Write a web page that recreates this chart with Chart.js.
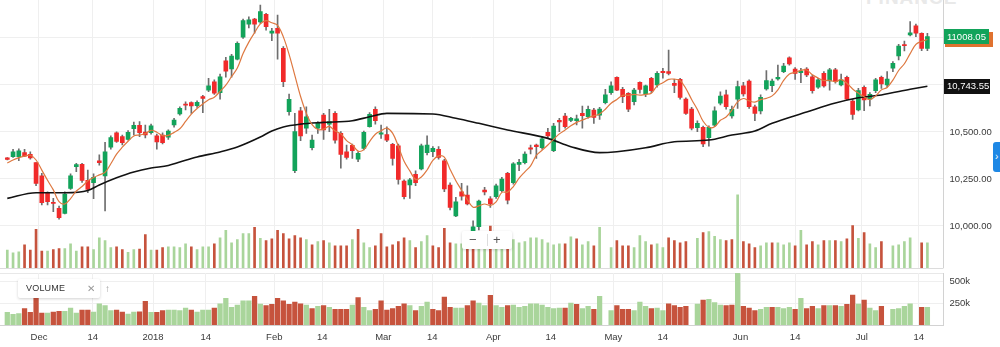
<!DOCTYPE html>
<html>
<head>
<meta charset="utf-8">
<title>Candles</title>
<script src="https://cdn.jsdelivr.net/npm/chart.js@4.4.1/dist/chart.umd.min.js"></script>
<style>
  html, body { margin: 0; padding: 0; background: #fff; }
  body { position: relative; width: 1000px; height: 347px; overflow: hidden; font-family: 'Liberation Sans', Arial, sans-serif; }
  .panel { position: absolute; left: 0; width: 1000px; }
  #price-wrap { top: 0; height: 268px; }
  #volume-wrap { top: 268px; height: 79px; }
  .watermark { position: absolute; left: 866px; top: -13px; font-size: 19px; letter-spacing: 1px; color: #e9e9e9; font-weight: bold; }
  .study-label { position: absolute; left: 18px; top: 279px; width: 82px; height: 19px; background: #fff; border-radius: 2px;
    box-shadow: 0 1px 3px rgba(0,0,0,0.18); font-size: 9px; color: #333; line-height: 19px; z-index: 3; }
  .study-label b { position: absolute; left: 8px; font-weight: normal; letter-spacing: 0.2px; }
  .study-label .x { position: absolute; left: 69px; color: #999; font-size: 10px; }
  .study-label .up { position: absolute; left: 87px; color: #999; font-size: 10px; }
  .zoom-ctrl { position: absolute; left: 462px; top: 231px; width: 50px; height: 18px; background: #fff; border-radius: 2px;
    box-shadow: 0 1px 3px rgba(0,0,0,0.18); z-index: 3; color: #555; font-size: 13px; line-height: 18px; }
  .zoom-ctrl span { position: absolute; top: 0; }
  .zoom-ctrl .minus { left: 7px; }
  .zoom-ctrl .plus { left: 31px; }
  .zoom-ctrl .sep { left: 25px; top: 3px; width: 1px; height: 12px; background: #ddd; }
  .side-tab { position: absolute; left: 993px; top: 142px; width: 7px; height: 30px; background: #1e88e5; border-radius: 3px 0 0 3px;
    color: #fff; font-size: 10px; line-height: 30px; text-indent: 2px; overflow: hidden; z-index: 3; }
</style>
</head>
<body>
<div class="watermark">FINANCE</div>
<div id="price-wrap" class="panel"><canvas id="price-chart" width="1000" height="268"></canvas></div>
<div id="volume-wrap" class="panel"><canvas id="volume-chart" width="1000" height="79"></canvas></div>
<div class="study-label"><b>VOLUME</b><span class="x">✕</span><span class="up">↑</span></div>
<div class="zoom-ctrl"><span class="minus">−</span><span class="sep"></span><span class="plus">+</span></div>
<div class="side-tab">›</div>

<script>
// daily candles, oldest first (161 sessions, late Nov 2017 -> mid Jul 2018)
const opens = [
  10362, 10369, 10369, 10390, 10381, 10337, 10267, 10177, 10122, 10094,
  10067, 10200, 10315, 10328, 10243, 10230, 10347, 10266, 10419, 10496,
  10475, 10461, 10517, 10535, 10500, 10496, 10480, 10484, 10472, 10537,
  10596, 10649, 10656, 10640, 10688, 10723, 10767, 10709, 10879, 10835,
  10887, 11004, 11074, 11101, 11085, 11126, 11026, 11051, 10945, 10608,
  10294, 10613, 10520, 10416, 10520, 10590, 10542, 10599, 10493, 10394,
  10429, 10356, 10413, 10528, 10621, 10489, 10486, 10434, 10427, 10239,
  10218, 10275, 10303, 10390, 10395, 10408, 10347, 10218, 10053, 10182,
  10165, 9975, 9996, 10191, 10144, 10156, 10188, 10280, 10230, 10328,
  10337, 10416, 10431, 10416, 10498, 10400, 10562, 10585, 10562, 10560,
  10599, 10581, 10617, 10590, 10656, 10709, 10791, 10727, 10706, 10661,
  10764, 10702, 10786, 10750, 10823, 10821, 10759, 10780, 10675, 10622,
  10523, 10525, 10470, 10536, 10653, 10697, 10585, 10674, 10745, 10771,
  10634, 10612, 10729, 10746, 10782, 10821, 10895, 10835, 10815, 10835,
  10794, 10738, 10812, 10771, 10830, 10750, 10791, 10665, 10617, 10738,
  10675, 10720, 10791, 10750, 10839, 10904, 10964, 11016, 11065, 11025,
  10945
];
const highs = [
  10364, 10408, 10411, 10408, 10395, 10337, 10280, 10182, 10147, 10106,
  10182, 10277, 10333, 10333, 10298, 10277, 10378, 10445, 10479, 10501,
  10484, 10507, 10553, 10555, 10537, 10542, 10489, 10496, 10511, 10573,
  10634, 10661, 10661, 10666, 10695, 10786, 10777, 10808, 10897, 10913,
  10980, 11101, 11113, 11105, 11175, 11131, 11051, 11122, 10954, 10702,
  10599, 10631, 10634, 10484, 10555, 10599, 10621, 10608, 10502, 10431,
  10436, 10395, 10505, 10603, 10634, 10537, 10528, 10440, 10436, 10245,
  10254, 10294, 10436, 10479, 10422, 10422, 10355, 10230, 10153, 10227,
  10213, 10028, 10138, 10206, 10156, 10223, 10259, 10285, 10337, 10355,
  10395, 10431, 10436, 10472, 10520, 10546, 10573, 10599, 10578, 10590,
  10638, 10638, 10626, 10631, 10727, 10767, 10794, 10738, 10709, 10732,
  10767, 10750, 10791, 10821, 10839, 10936, 10780, 10786, 10682, 10631,
  10560, 10532, 10533, 10634, 10714, 10723, 10638, 10771, 10764, 10777,
  10643, 10697, 10826, 10782, 10856, 10865, 10900, 10842, 10839, 10842,
  10801, 10786, 10821, 10839, 10839, 10808, 10798, 10674, 10732, 10745,
  10709, 10786, 10798, 10821, 10874, 10966, 10984, 11087, 11074, 11028,
  11025
];
const lows = [
  10351, 10365, 10347, 10369, 10355, 10214, 10112, 10112, 10076, 10036,
  10064, 10195, 10289, 10232, 10177, 10145, 10324, 10080, 10409, 10445,
  10431, 10457, 10484, 10475, 10468, 10489, 10408, 10436, 10461, 10525,
  10590, 10617, 10599, 10631, 10603, 10714, 10700, 10674, 10791, 10791,
  10883, 10998, 11053, 11025, 11078, 11042, 10986, 10887, 10741, 10590,
  10283, 10454, 10493, 10404, 10493, 10461, 10502, 10440, 10307, 10355,
  10360, 10342, 10404, 10525, 10542, 10466, 10448, 10324, 10222, 10144,
  10147, 10214, 10298, 10378, 10369, 10355, 10182, 10085, 10049, 10138,
  10112, 9970, 9979, 10165, 10099, 10147, 10182, 10117, 10223, 10294,
  10330, 10383, 10360, 10409, 10466, 10395, 10502, 10520, 10555, 10537,
  10520, 10573, 10546, 10567, 10649, 10700, 10720, 10656, 10608, 10644,
  10706, 10688, 10709, 10738, 10786, 10803, 10709, 10674, 10594, 10511,
  10502, 10422, 10425, 10528, 10644, 10622, 10573, 10626, 10691, 10626,
  10560, 10596, 10723, 10714, 10776, 10815, 10856, 10780, 10762, 10794,
  10706, 10732, 10738, 10723, 10759, 10745, 10670, 10567, 10612, 10613,
  10638, 10709, 10732, 10738, 10821, 10883, 10931, 11011, 11007, 10932,
  10932
];
const closes = [
  10354, 10395, 10400, 10372, 10362, 10227, 10124, 10129, 10120, 10044,
  10170, 10267, 10326, 10243, 10195, 10259, 10337, 10394, 10470, 10450,
  10443, 10498, 10535, 10496, 10484, 10533, 10447, 10443, 10505, 10564,
  10626, 10642, 10638, 10658, 10679, 10745, 10706, 10794, 10824, 10904,
  10972, 11092, 11096, 11074, 11140, 11060, 11037, 11025, 10767, 10674,
  10502, 10479, 10581, 10457, 10546, 10511, 10555, 10457, 10381, 10365,
  10400, 10387, 10498, 10594, 10560, 10496, 10457, 10360, 10248, 10156,
  10245, 10230, 10427, 10431, 10413, 10365, 10197, 10099, 10129, 10159,
  10117, 9996, 10133, 10181, 10117, 10214, 10250, 10138, 10330, 10339,
  10383, 10408, 10422, 10463, 10479, 10532, 10553, 10528, 10573, 10570,
  10587, 10621, 10578, 10622, 10697, 10746, 10723, 10688, 10621, 10723,
  10726, 10745, 10720, 10812, 10815, 10811, 10748, 10684, 10599, 10520,
  10546, 10436, 10525, 10612, 10691, 10634, 10621, 10741, 10702, 10634,
  10599, 10684, 10773, 10771, 10791, 10851, 10862, 10812, 10824, 10803,
  10720, 10777, 10745, 10830, 10767, 10777, 10675, 10594, 10720, 10670,
  10700, 10777, 10755, 10782, 10865, 10957, 10959, 11028, 11025, 10945,
  11008.05
];
// volume in thousands, null = no print that day
const volume = [
  144, 121, 129, 186, 144, 311, 136, 136, 148, 155,
  155, 193, 136, 170, 170, 148, 242, 220, 163, 170,
  148, 125, 148, 151, 269, 144, 144, 163, 170, 170,
  163, 193, 170, 148, 170, 170, 193, 242, 303, 201,
  227, 276, 276, 326, 239, 220, 235, 303, 276, 235,
  261, 242, 227, 186, 212, 220, 201, 178, 178, 178,
  227, 311, 201, 163, 178, 276, 170, 186, 212, 242,
  220, 163, 212, 261, 178, 163, 318, 201, 193, 193,
  220, 276, 250, 220, 337, 220, 201, 220, 227, 201,
  212, 242, 242, 227, 201, 186, 193, 193, 250, 235,
  186, 212, 178, 326, null, 163, 220, 178, 178, 163,
  261, 212, 186, 193, 163, 242, 220, 201, 212, null,
  239, 284, 292, 254, 227, 220, 227, 587, 212, 193,
  163, 178, 201, 201, 201, 186, 201, 178, 303, 186,
  212, 186, 220, 220, 220, 212, 235, 341, 239, 284,
  193, 163, 212, null, 178, 186, 212, 242, null, 201,
  201
];
// short moving average (orange), one value per session
const ma5 = [
  10335, 10351, 10364, 10372, 10376, 10351, 10297, 10243, 10192, 10129,
  10117, 10146, 10186, 10210, 10240, 10258, 10272, 10285, 10331, 10382,
  10419, 10451, 10479, 10484, 10491, 10509, 10499, 10481, 10482, 10498,
  10517, 10556, 10595, 10625, 10649, 10672, 10685, 10716, 10749, 10795,
  10840, 10917, 10978, 11028, 11075, 11092, 11081, 11067, 11006, 10913,
  10801, 10689, 10600, 10539, 10513, 10515, 10530, 10505, 10490, 10454,
  10432, 10398, 10406, 10449, 10488, 10507, 10521, 10494, 10424, 10344,
  10293, 10248, 10261, 10298, 10349, 10373, 10366, 10301, 10241, 10190,
  10140, 10100, 10107, 10117, 10109, 10128, 10179, 10180, 10210, 10254,
  10288, 10320, 10376, 10403, 10431, 10461, 10490, 10511, 10533, 10551,
  10563, 10576, 10586, 10596, 10621, 10653, 10673, 10695, 10695, 10700,
  10696, 10700, 10706, 10745, 10762, 10780, 10781, 10774, 10731, 10673,
  10620, 10557, 10525, 10528, 10562, 10580, 10616, 10660, 10678, 10666,
  10659, 10672, 10679, 10692, 10724, 10774, 10809, 10817, 10828, 10830,
  10804, 10787, 10774, 10775, 10767, 10779, 10759, 10729, 10707, 10687,
  10672, 10692, 10724, 10737, 10776, 10827, 10863, 10917, 10966, 10982,
  10992
];
// long moving average (black), read at these session numbers
const ma50Index = [0, 5, 10, 14, 16, 19, 22, 25, 28, 30, 33, 37, 40, 44, 46, 48, 51, 55, 60, 63,
  66, 74, 78, 82, 87, 94, 98, 103, 106, 111, 116, 122, 126, 130, 133, 139, 144, 148, 152, 157, 160];
const ma50Value = [10147, 10177, 10177, 10189, 10218, 10256, 10287, 10308, 10322, 10340, 10367, 10394, 10420, 10473, 10505, 10527, 10542, 10551, 10560, 10581,
  10599, 10596, 10573, 10546, 10511, 10466, 10422, 10390, 10395, 10416, 10448, 10457, 10484, 10505, 10546, 10606, 10654, 10682, 10697, 10727, 10743.55];

// date axis: where the month / mid-month marks fall, in session units
const tickPos = [5.51, 14.85, 25.34, 34.5, 46.43, 54.78, 65.39, 73.91, 84.52, 94.5, 105.39, 113.98, 127.5, 137.0, 148.6, 158.5];
const tickLabels = ['Dec', '14', '2018', '14', 'Feb', '14', 'Mar', '14', 'Apr', '14', 'May', '14', 'Jun', '14', 'Jul', '14'];
const priceTicks = [10000, 10250, 10500, 10750, 11000];
const hiddenPriceLabels = [10750, 11000]; // covered by the value badges
const volumeTicks = [250, 500];

const UP = '#12a35a';
const DOWN = '#f12a2a';
const WICK = '#6e6e6e';
const VOL_UP = '#a9d59b';
const VOL_DOWN = '#c6533d';
const GRID = '#efefef';
const AXIS = '#d2d2d2';
const TEXT = '#3a3a3a';
const FONT = { family: "'Liberation Sans', Arial, sans-serif", size: 9.5 };

Chart.defaults.font.family = FONT.family;
Chart.defaults.color = TEXT;

const xMin = -1.27;
const xMax = 162.8;
const axisWidth = 56.5;

const sessions = closes.map((_, i) => i);
const wickData = sessions.map(i => ({ x: i, y: [lows[i], highs[i]] }));
const bodyData = sessions.map(i => ({ x: i, y: [opens[i], closes[i]] }));
const bodyColors = sessions.map(i => closes[i] >= opens[i] ? UP : DOWN);
const volData = sessions.map(i => ({ x: i, y: volume[i] }));
const volColors = sessions.map(i => (i === 0 || closes[i] >= closes[i - 1]) ? VOL_UP : VOL_DOWN);
const ma5Data = sessions.map(i => ({ x: i, y: ma5[i] }));
const ma50Data = ma50Index.map((x, k) => ({ x: x, y: ma50Value[k] }));

function dateAxis(showLabels) {
    return {
        type: 'linear',
        min: xMin,
        max: xMax,
        offset: false,
        afterBuildTicks: scale => { scale.ticks = tickPos.map(v => ({ value: v })); },
        afterFit: scale => {
            scale.paddingLeft = 0;
            scale.paddingRight = 0;
            if (showLabels) scale.height = 22;
        },
        grid: { color: GRID, drawTicks: false, offset: false },
        border: { display: showLabels, color: AXIS },
        ticks: {
            display: showLabels,
            autoSkip: false,
            maxRotation: 0,
            padding: 7,
            font: FONT,
            callback: (v, i) => tickLabels[i]
        }
    };
}

function sideAxis(min, max, ticks, format) {
    return {
        position: 'right',
        min: min,
        max: max,
        afterBuildTicks: scale => { scale.ticks = ticks.map(v => ({ value: v })); },
        afterFit: scale => {
            scale.width = axisWidth;
            scale.paddingTop = 0;
            scale.paddingBottom = 0;
        },
        grid: { color: GRID, drawTicks: false },
        border: { display: true, color: AXIS },
        ticks: { padding: 6, font: FONT, callback: format }
    };
}

function drawBadge(ctx, x, y, w, color, text) {
    ctx.save();
    ctx.fillStyle = color;
    ctx.fillRect(x, Math.round(y - 7.5), w, 15);
    if (text) {
        ctx.fillStyle = '#fff';
        ctx.font = '9.5px ' + FONT.family;
        ctx.textBaseline = 'middle';
        ctx.fillText(text, x + 3, y + 0.5);
    }
    ctx.restore();
}

// last-value tags on the price axis
const badgePlugin = {
    id: 'badges',
    afterDraw(chart) {
        const ctx = chart.ctx;
        const y = chart.scales.y;
        const left = chart.chartArea.right + 0.5;
        const lastClose = closes[closes.length - 1];
        const lastLong = ma50Value[ma50Value.length - 1];
        drawBadge(ctx, left + 1, y.getPixelForValue(ma5[ma5.length - 1]), 48, '#e0722f', null);
        drawBadge(ctx, left, y.getPixelForValue(lastClose), 45, UP, lastClose.toFixed(2));
        drawBadge(ctx, left, y.getPixelForValue(lastLong), 46, '#111',
            lastLong.toLocaleString('en-US', { minimumFractionDigits: 2 }));
    }
};

// thin rule between price and volume panes
const panelLines = {
    id: 'panelLines',
    beforeDraw(chart) {
        const ctx = chart.ctx;
        ctx.save();
        ctx.strokeStyle = '#dcdcdc';
        ctx.lineWidth = 1;
        ctx.beginPath();
        ctx.moveTo(0, 0.5);
        ctx.lineTo(chart.chartArea.right, 0.5);
        ctx.stroke();
        ctx.strokeStyle = '#e8e8e8';
        ctx.beginPath();
        ctx.moveTo(0, chart.chartArea.top + 0.5);
        ctx.lineTo(chart.chartArea.right, chart.chartArea.top + 0.5);
        ctx.stroke();
        ctx.restore();
    }
};

const priceChart = new Chart(document.getElementById('price-chart'), {
    type: 'bar',
    data: {
        datasets: [
            {
                label: 'Volume',
                data: volData,
                yAxisID: 'yv',
                backgroundColor: volColors,
                barThickness: 2,
                grouped: false,
                order: 10
            },
            {
                label: 'Range',
                data: wickData,
                backgroundColor: WICK,
                barThickness: 1,
                grouped: false,
                order: 9
            },
            {
                label: 'Body',
                data: bodyData,
                backgroundColor: bodyColors,
                barThickness: 4,
                minBarLength: 1,
                grouped: false,
                order: 8
            },
            {
                type: 'line',
                label: 'MA long',
                data: ma50Data,
                borderColor: '#121212',
                borderWidth: 1.6,
                pointRadius: 0,
                cubicInterpolationMode: 'monotone',
                order: 2
            },
            {
                type: 'line',
                label: 'MA short',
                data: ma5Data,
                borderColor: '#de7840',
                borderWidth: 1.2,
                pointRadius: 0,
                tension: 0.35,
                order: 1
            }
        ]
    },
    options: {
        responsive: false,
        animation: false,
        events: [],
        layout: { padding: 0, autoPadding: false },
        plugins: { legend: { display: false }, tooltip: { enabled: false } },
        scales: {
            x: dateAxis(false),
            y: sideAxis(9776.6, 11202, priceTicks,
                v => hiddenPriceLabels.includes(v) ? '' : v.toLocaleString('en-US', { minimumFractionDigits: 2 })),
            yv: { display: false, min: 0, max: 2150 }
        }
    },
    plugins: [badgePlugin]
});

const volumeChart = new Chart(document.getElementById('volume-chart'), {
    type: 'bar',
    data: {
        datasets: [{
            label: 'Volume',
            data: volData,
            backgroundColor: volColors,
            barThickness: 4.6,
            grouped: false
        }]
    },
    options: {
        responsive: false,
        animation: false,
        events: [],
        layout: { padding: { top: 5, left: 0, right: 0, bottom: 0 }, autoPadding: false },
        plugins: { legend: { display: false }, tooltip: { enabled: false } },
        scales: {
            x: dateAxis(true),
            y: sideAxis(0, 591, volumeTicks, v => v + 'k')
        }
    },
    plugins: [panelLines]
});
</script>
</body>
</html>
